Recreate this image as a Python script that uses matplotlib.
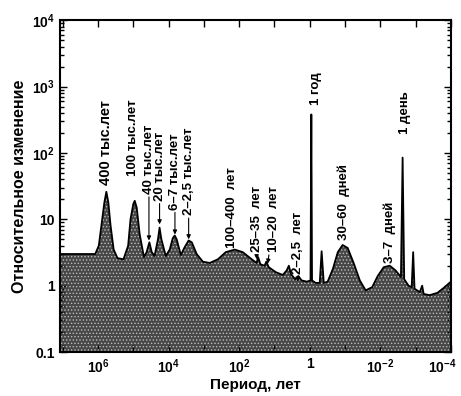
import matplotlib
matplotlib.use("Agg")
import matplotlib.pyplot as plt
import matplotlib.transforms as mtransforms
from matplotlib.ticker import FixedLocator, LogLocator, NullLocator, NullFormatter

plt.rcParams['font.family'] = ['Liberation Sans', 'DejaVu Sans']
plt.rcParams['mathtext.fontset'] = 'custom'
plt.rcParams['mathtext.bf'] = 'Liberation Sans:bold'
plt.rcParams['mathtext.rm'] = 'Liberation Sans:bold'
plt.rcParams['mathtext.default'] = 'bf'
plt.rcParams['hatch.linewidth'] = 0.6

# спектр: период (лет) и относительное изменение
period = [1.2e7, 1.2e6, 9.5e5, 7.8e5, 6.6e5, 5.8e5, 5.1e5, 4.4e5, 3.6e5, 2.8e5,
          1.9e5, 1.4e5, 1.2e5, 1.0e5, 9.1e4, 8.0e4, 6.6e4, 5.0e4, 4.2e4, 3.5e4,
          3.0e4, 2.5e4, 2.0e4, 1.8e4, 1.6e4, 1.2e4, 9.3e3, 7.6e3, 6.7e3, 5.9e3,
          4.5e3, 3.5e3, 2.7e3, 2.2e3, 1.6e3, 1.07e3, 680, 400, 240, 133,
          79, 44, 32, 29, 25, 19, 17, 14.5, 9.2, 5.8,
          4.5, 3.9, 3.4, 2.6, 2.1, 1.7, 1.2, 0.95, 0.9, 0.86,
          0.68, 0.52, 0.46, 0.40, 0.31, 0.22, 0.16, 0.117, 0.084, 0.057,
          0.038, 0.026, 0.017, 0.0118, 0.0080, 0.0054, 0.0037, 0.0026, 0.00233, 0.0021,
          0.00158, 0.00129, 0.00117, 0.00107, 7.6e-4, 6.5e-4, 5.9e-4, 4.0e-4, 2.4e-4, 1.5e-4,
          1.0e-4]
change = [3.0, 3.0, 4.0, 9, 18, 26, 18, 8, 3.5, 2.6,
          2.5, 4, 10, 17, 19, 15, 6, 2.7, 3.2, 4.5,
          3.2, 2.8, 5, 7.5, 5, 2.8, 3.5, 5.2, 5.7, 5,
          2.9, 3.8, 4.8, 4.5, 3, 2.3, 2.2, 2.5, 3.2, 3.5,
          3.2, 2.5, 2.2, 2.7, 2.1, 2.0, 2.3, 1.9, 1.6, 1.45,
          1.7, 2.0, 1.5, 1.25, 1.4, 1.2, 1.15, 1.2, 380, 1.2,
          1.1, 1.1, 3.3, 1.1, 1.15, 1.8, 3.2, 4.1, 3.7, 2.2,
          1.2, 0.85, 0.95, 1.4, 1.9, 2.0, 1.7, 1.35, 85, 1.25,
          1.0, 0.95, 3.2, 0.9, 0.8, 1.0, 0.75, 0.72, 0.78, 0.95,
          1.15]

# подписи пиков: текст, положение текста, куда указывает стрелка (None - без стрелки)
labels = ['400 тыс.лет', '100 тыс.лет', '40 тыс.лет', '20 тыс.лет', '6–7 тыс.лет',
          '2–2,5 тыс.лет', '100–400  лет', '25–35  лет', '10–20  лет', '2–2,5  лет',
          '1 год', '30–60  дней', '3–7  дней', '1 день']
label_x = [6.0e5, 1.0e5, 3.6e4, 1.8e4, 6.6e3, 2.7e3, 162, 32, 10.5, 2.2,
           0.68, 0.11, 0.0054, 0.0020]
label_y = [33, 45, 24, 19, 14, 11.5, 3.7, 3.2, 3.2, 1.5,
           530, 4.8, 2.2, 195]
arrow_x = [None, None, 3.6e4, 1.8e4, 6.6e3, 2.7e3, None, 32, 15.5, 2.2,
           None, None, None, None]
arrow_y = [None, None, 4.8, 8.4, 5.9, 5.0, None, 2.5, 2.15, 1.15,
           None, None, None, None]


def main():
    fig = plt.figure(figsize=(4.61, 3.96), dpi=100)
    ax = fig.add_axes([0.130, 0.111, 0.848, 0.838])

    ax.fill_between(period, 0.05, change, facecolor='#474747', edgecolor='none', zorder=1)
    ax.fill_between(period, 0.05, change, facecolor='none', edgecolor='#bdbdbd',
                    hatch='.....', linewidth=0, zorder=2)
    ax.plot(period, change, color='black', lw=1.3, zorder=3)

    ax.set_xscale('log')
    ax.set_yscale('log')
    ax.set_xlim(1.2e7, 1.0e-4)
    ax.set_ylim(0.1, 1e4)

    # подписи
    for i in range(len(labels)):
        fs = 10.5 if labels[i].startswith('400') else 9.5
        if arrow_x[i] is None:
            ax.text(label_x[i], label_y[i], labels[i], rotation=90, ha='center',
                    va='bottom', fontsize=fs, fontweight='bold', zorder=5)
        else:
            ax.annotate(labels[i], xy=(arrow_x[i], arrow_y[i]),
                        xytext=(label_x[i], label_y[i]), rotation=90,
                        ha='center', va='bottom', fontsize=fs, fontweight='bold',
                        arrowprops=dict(arrowstyle='-|>', lw=0.8, color='black',
                                        mutation_scale=6, shrinkA=0, shrinkB=0),
                        zorder=5)

    # оси
    xt = [10.0 ** k for k in range(-4, 8)]
    ax.xaxis.set_major_locator(FixedLocator(xt))
    ax.xaxis.set_minor_locator(NullLocator())
    xlab = {6: r'$10^{6}$', 4: r'$10^{4}$', 2: r'$10^{2}$', 0: '1',
            -2: r'$10^{-2}$', -4: r'$10^{-4}$'}
    ax.set_xticklabels([xlab.get(k, '') for k in range(-4, 8)])

    ax.yaxis.set_major_locator(FixedLocator([0.1, 1, 10, 100, 1000, 10000]))
    ax.yaxis.set_minor_locator(LogLocator(base=10, subs=range(2, 10), numticks=20))
    ax.yaxis.set_minor_formatter(NullFormatter())
    ax.set_yticklabels(['0.1', '1', '10', r'$10^{2}$', r'$10^{3}$', r'$10^{4}$'])

    ax.tick_params(which='both', direction='in', top=True, right=True,
                   labelsize=10, width=1.0)
    ax.tick_params(which='major', length=5)
    ax.tick_params(which='minor', length=3)
    for lab in ax.get_xticklabels() + ax.get_yticklabels():
        lab.set_fontweight('bold')
    # крайняя правая подпись чуть левее, чтобы не обрезалась
    last = ax.get_xticklabels()[0]
    last.set_transform(last.get_transform() +
                       mtransforms.ScaledTranslation(-0.09, 0, fig.dpi_scale_trans))
    for s in ax.spines.values():
        s.set_linewidth(1.5)

    ax.set_xlabel('Период, лет', fontsize=11, fontweight='bold', labelpad=2)
    ax.set_ylabel('Относительное изменение', fontsize=11.5, fontweight='bold', labelpad=4)

    fig.savefig('out.png', dpi=100)


if __name__ == "__main__":
    main()
